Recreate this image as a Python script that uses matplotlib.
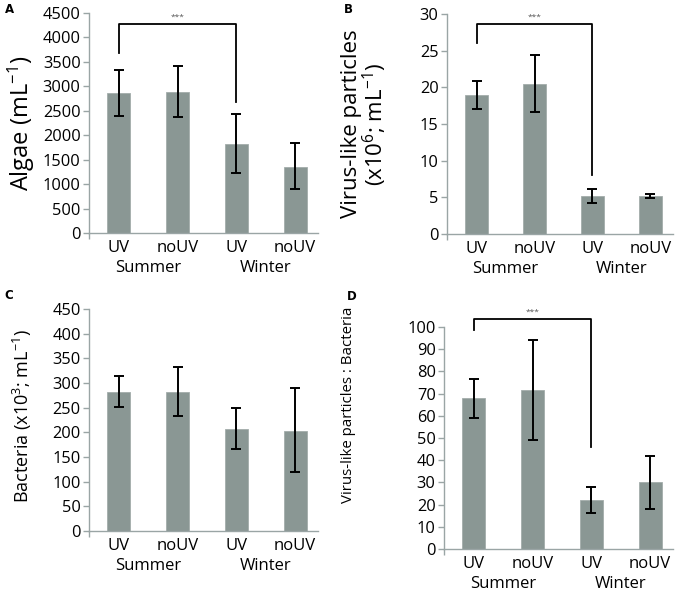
import numpy as np
import matplotlib
matplotlib.use("Agg")
import matplotlib.pyplot as plt

plt.rcParams['font.family'] = ['Open Sans', 'DejaVu Sans']
plt.rcParams['mathtext.fontset'] = 'custom'
plt.rcParams['mathtext.rm'] = 'Open Sans'
plt.rcParams['mathtext.it'] = 'Open Sans'

# categories
treat = ["UV", "noUV", "UV", "noUV"]
season = ["Summer", "Winter"]

# panel values (mean, lower error end, upper error end)
algae = [2860, 2890, 1830, 1360]
algae_lo = [2400, 2380, 1230, 900]
algae_hi = [3340, 3410, 2440, 1840]

vlp = [18.9, 20.5, 5.2, 5.2]
vlp_lo = [17.0, 16.6, 4.2, 4.9]
vlp_hi = [20.9, 24.4, 6.2, 5.5]

bact = [282, 282, 207, 203]
bact_lo = [251, 233, 166, 120]
bact_hi = [314, 333, 249, 289]

ratio = [68, 71.5, 22, 30]
ratio_lo = [59, 49, 16, 18]
ratio_hi = [76.5, 94, 28, 42]

# significance brackets: top, left end, right end (UV summer vs UV winter)
brk_a = [4275, 3680, 2680]
brk_b = [28.6, 26.0, 8.0]
brk_d = [103.6, 98.6, 46]

bar_col = '#8A9794'
ax_col = '#9AA5A5'

fig = plt.figure(figsize=(6.8, 5.91), dpi=100)

W, H = 680.0, 591.0
def box(l, r, t, b):
    return [l / W, 1 - b / H, (r - l) / W, (b - t) / H]

panels = [
    dict(rect=box(89, 318, 13, 233), v=algae, lo=algae_lo, hi=algae_hi, ymax=4500, step=500,
         lab='Algae (mL$^{-1}$)', fs=17, lx=-0.297, ly=0.5, brk=brk_a, letter='A', pos=(5, 3)),
    dict(rect=box(447, 673, 14, 234), v=vlp, lo=vlp_lo, hi=vlp_hi, ymax=30, step=5,
         lab='Virus-like particles\n(x10$^{6}$; mL$^{-1}$)', fs=16, lx=-0.363, ly=0.5, brk=brk_b,
         letter='B', pos=(344, 3)),
    dict(rect=box(89, 318, 309, 531), v=bact, lo=bact_lo, hi=bact_hi, ymax=450, step=50,
         lab='Bacteria (x10$^{3}$; mL$^{-1}$)', fs=13, lx=-0.29, ly=0.518, brk=None, letter='C', pos=(4, 289)),
    dict(rect=box(444, 673, 327, 549), v=ratio, lo=ratio_lo, hi=ratio_hi, ymax=100, step=10,
         lab='Virus-like particles : Bacteria', fs=10.8, lx=-0.415, ly=0.65, brk=brk_d,
         letter='D', pos=(347, 290)),
]

for p in panels:
    ax = fig.add_axes(p['rect'])
    x = np.arange(len(treat))
    v = np.array(p['v'])
    err = [v - np.array(p['lo']), np.array(p['hi']) - v]
    ax.bar(x, v, width=0.39, color=bar_col, edgecolor='#A3ADAB', linewidth=0.6, zorder=2)
    ax.errorbar(x, v, yerr=err, fmt='none', ecolor='black', elinewidth=1.4,
                capsize=3.5, capthick=1.4, zorder=3)
    ax.set_xlim(-0.51, 3.39)
    ax.set_ylim(0, p['ymax'])
    ax.set_yticks(np.arange(0, p['ymax'] + p['step'] / 2, p['step']))
    ax.set_xticks(x)
    ax.set_xticklabels(treat, fontsize=12)
    ax.set_xticks([-0.51], minor=True)
    ax.tick_params(axis='x', which='major', length=0, pad=5)
    ax.tick_params(axis='x', which='minor', length=4, width=1, color=ax_col)
    ax.tick_params(axis='y', length=4, width=1, color=ax_col, labelsize=11.8, pad=2)
    for s in ['top', 'right']:
        ax.spines[s].set_visible(False)
    for s in ['left', 'bottom']:
        ax.spines[s].set_color(ax_col)
        ax.spines[s].set_linewidth(1.0)
    for i, name in enumerate(season):
        ax.annotate(name, xy=(2 * i + 0.5, 0), xycoords=('data', 'axes fraction'),
                    xytext=(0, -25.5), textcoords='offset points',
                    ha='center', va='center', fontsize=12)
    ax.set_ylabel(p['lab'], fontsize=p['fs'], linespacing=0.95)
    ax.yaxis.label.set_va('center')
    ax.yaxis.set_label_coords(p['lx'], p['ly'])
    if p['brk'] is not None:
        top, yl, yr = p['brk']
        ax.plot([0, 0, 2, 2], [yl, top, top, yr], color='black', lw=1.3, clip_on=False, zorder=4)
        ax.annotate('***', xy=(1, top), xycoords='data', xytext=(0, 2.5), textcoords='offset points',
                    ha='center', va='bottom', fontsize=6, color='#555555', annotation_clip=False)
    fig.text(p['pos'][0] / W, 1 - p['pos'][1] / H, p['letter'], fontsize=8.5,
             fontweight='bold', family='DejaVu Sans', ha='left', va='top')

fig.savefig('out.png', dpi=100)
